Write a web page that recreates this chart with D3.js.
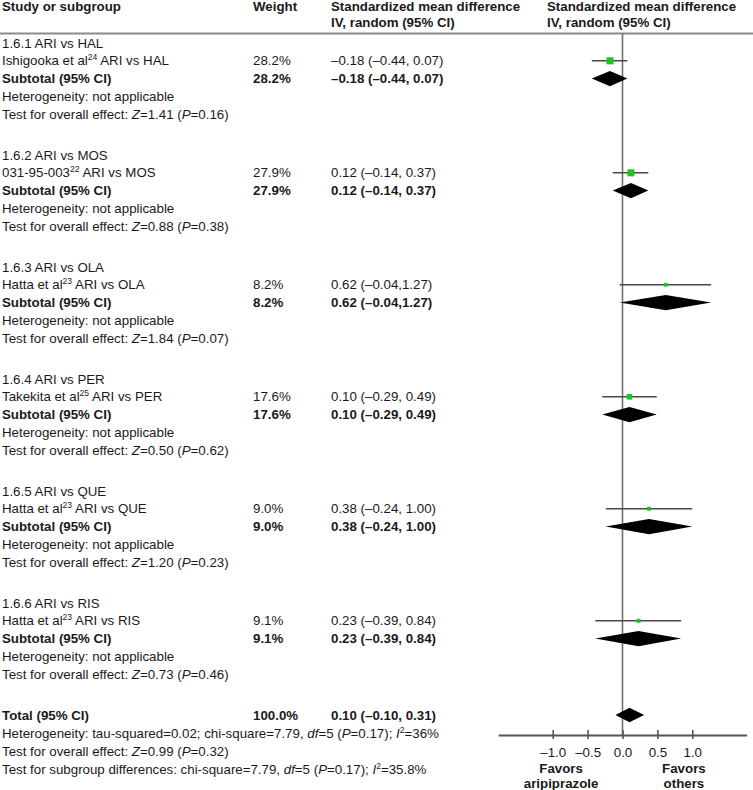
<!DOCTYPE html>
<html>
<head>
<meta charset="utf-8">
<script src="https://cdn.jsdelivr.net/npm/d3@7"></script>
<style>
  html, body { margin: 0; padding: 0; background: #fff; }
  svg text { font-family: "Liberation Sans", Arial, Helvetica, sans-serif; font-size: 13.3px; fill: #1a1a1a; }
</style>
</head>
<body>
<svg id="chart" width="753" height="790"></svg>
<script>
// ---------- data ----------
const groupLabels = ["1.6.1 ARI vs HAL", "1.6.2 ARI vs MOS", "1.6.3 ARI vs OLA", "1.6.4 ARI vs PER", "1.6.5 ARI vs QUE", "1.6.6 ARI vs RIS"];
const studyNames = ["Ishigooka et al", "031-95-003", "Hatta et al", "Takekita et al", "Hatta et al", "Hatta et al"];
const studyRefs = ["24", "22", "23", "25", "23", "23"];
const comparisons = ["ARI vs HAL", "ARI vs MOS", "ARI vs OLA", "ARI vs PER", "ARI vs QUE", "ARI vs RIS"];
const weights = [28.2, 27.9, 8.2, 17.6, 9.0, 9.1];
const smd = [-0.18, 0.12, 0.62, 0.10, 0.38, 0.23];
const ciLower = [-0.44, -0.14, -0.04, -0.29, -0.24, -0.39];
const ciUpper = [0.07, 0.37, 1.27, 0.49, 1.00, 0.84];
const ciLabels = ["–0.18 (–0.44, 0.07)", "0.12 (–0.14, 0.37)", "0.62 (–0.04,1.27)", "0.10 (–0.29, 0.49)", "0.38 (–0.24, 1.00)", "0.23 (–0.39, 0.84)"];
const zValues = ["1.41", "0.88", "1.84", "0.50", "1.20", "0.73"];
const pValues = ["0.16", "0.38", "0.07", "0.62", "0.23", "0.46"];
const totalWeight = 100.0;
const totalSmd = 0.10, totalLower = -0.10, totalUpper = 0.31;
const totalCiLabel = "0.10 (–0.10, 0.31)";
const tickValues = [-1.0, -0.5, 0.0, 0.5, 1.0];
const tickLabels = ["–1.0", "–0.5", "0.0", "0.5", "1.0"];

// ---------- layout ----------
const svg = d3.select("#chart");
const INK = "#1a1a1a";
const colStudy = 2, colWeight = 253, colCI = 331, colPlot = 547;
const x = d3.scaleLinear().domain([-1.78, 1.78]).range([498.3, 746.7]);
const axisY = 735;
const headerLineY = 33.5;
const rowY = (g, line) => 43 + g * 112 + line * 17.8;
const totalY = (line) => 715 + line * 18;
const boxSide = d3.scaleSqrt().domain([0, 100]).range([0, 13.2]);

// rich text helper: segments are strings or {t, i, sup}
function rich(x0, y0, segs, bold) {
  const t = svg.append("text").attr("x", x0).attr("y", y0).attr("dy", "0.35em")
    .style("font-weight", bold ? "bold" : "normal");
  let raised = false;
  segs.forEach(s => {
    const seg = typeof s === "string" ? { t: s } : s;
    const sp = t.append("tspan").text(seg.t);
    if (seg.i) sp.style("font-style", "italic");
    if (seg.sup) {
      sp.style("font-size", "8.5px");
      if (!raised) { sp.attr("dy", -5); raised = true; }
    } else if (raised) { sp.attr("dy", 5); raised = false; }
  });
  return t;
}

// ---------- header ----------
const hdr = [
  [colStudy, ["Study or subgroup"]],
  [colWeight, ["Weight"]],
  [colCI, ["Standardized mean difference", "IV, random (95% CI)"]],
  [colPlot, ["Standardized mean difference", "IV, random (95% CI)"]]
];
hdr.forEach(([cx, lines]) => {
  lines.forEach((l, i) => {
    svg.append("text").attr("x", cx).attr("y", 11 + i * 15.5)
      .style("font-weight", "bold").text(l);
  });
});
svg.append("line").attr("x1", 0).attr("x2", 753)
  .attr("y1", headerLineY).attr("y2", headerLineY)
  .attr("stroke", "#8a8a8a").attr("stroke-width", 2);

// zero line
svg.append("line").attr("x1", x(0)).attr("x2", x(0))
  .attr("y1", headerLineY).attr("y2", axisY)
  .attr("stroke", "#707070").attr("stroke-width", 1.6);

// ---------- groups ----------
groupLabels.forEach((g, i) => {
  rich(colStudy, rowY(i, 0), [g]);
  rich(colStudy, rowY(i, 1), [studyNames[i], { t: studyRefs[i], sup: true }, " " + comparisons[i]]);
  rich(colWeight, rowY(i, 1), [weights[i].toFixed(1) + "%"]);
  rich(colCI, rowY(i, 1), [ciLabels[i]]);
  rich(colStudy, rowY(i, 2), ["Subtotal (95% CI)"], true);
  rich(colWeight, rowY(i, 2), [weights[i].toFixed(1) + "%"], true);
  rich(colCI, rowY(i, 2), [ciLabels[i]], true);
  rich(colStudy, rowY(i, 3), ["Heterogeneity: not applicable"]);
  rich(colStudy, rowY(i, 4), ["Test for overall effect: ", { t: "Z", i: true }, "=" + zValues[i] + " (", { t: "P", i: true }, "=" + pValues[i] + ")"]);

  // CI line + square
  const yS = rowY(i, 1);
  svg.append("line").attr("x1", x(ciLower[i])).attr("x2", x(ciUpper[i]))
    .attr("y1", yS).attr("y2", yS).attr("stroke", "#4a4a4a").attr("stroke-width", 1.5);
  const s = boxSide(weights[i]);
  svg.append("rect").attr("x", x(smd[i]) - s / 2).attr("y", yS - s / 2)
    .attr("width", s).attr("height", s).attr("fill", "#1fc21f");

  // subtotal diamond
  const yD = rowY(i, 2);
  const h = 7.6;
  svg.append("path").attr("d", d3.line()([[x(ciLower[i]), yD], [x(smd[i]), yD - h], [x(ciUpper[i]), yD], [x(smd[i]), yD + h]]) + "Z")
    .attr("fill", "#000");
});

// ---------- total ----------
rich(colStudy, totalY(0), ["Total (95% CI)"], true);
rich(colWeight, totalY(0), [totalWeight.toFixed(1) + "%"], true);
rich(colCI, totalY(0), [totalCiLabel], true);
rich(colStudy, totalY(1), ["Heterogeneity: tau-squared=0.02; chi-square=7.79, ", { t: "df", i: true }, "=5 (", { t: "P", i: true }, "=0.17); ", { t: "I", i: true }, { t: "2", sup: true }, "=36%"]);
rich(colStudy, totalY(2), ["Test for overall effect: ", { t: "Z", i: true }, "=0.99 (", { t: "P", i: true }, "=0.32)"]);
rich(colStudy, totalY(3), ["Test for subgroup differences: chi-square=7.79, ", { t: "df", i: true }, "=5 (", { t: "P", i: true }, "=0.17); ", { t: "I", i: true }, { t: "2", sup: true }, "=35.8%"]);

{
  const yD = totalY(0), h = 7.2;
  svg.append("path").attr("d", d3.line()([[x(totalLower), yD], [x(totalSmd), yD - h], [x(totalUpper), yD], [x(totalSmd), yD + h]]) + "Z")
    .attr("fill", "#000");
}

// ---------- axis ----------
const axis = d3.axisBottom(x).tickValues(tickValues)
  .tickFormat((d, i) => tickLabels[i]).tickSizeOuter(0).tickSizeInner(4).tickPadding(9);
const ag = svg.append("g").attr("transform", `translate(0,${axisY})`).call(axis);
ag.select(".domain").attr("stroke", "#555").attr("stroke-width", 2);
ag.selectAll(".tick line").attr("y1", -5).attr("y2", 4).attr("stroke", "#555").attr("stroke-width", 1.6);
ag.selectAll(".tick text").attr("fill", INK)
  .style("font-family", '"Liberation Sans", Arial, sans-serif').style("font-size", "13.3px");

// favors labels
[["Favors", "aripiprazole", -0.88], ["Favors", "others", 0.88]].forEach(([a, b, v]) => {
  svg.append("text").attr("x", x(v)).attr("y", 768).attr("dy", "0.35em")
    .attr("text-anchor", "middle").style("font-weight", "bold").text(a);
  svg.append("text").attr("x", x(v)).attr("y", 783).attr("dy", "0.35em")
    .attr("text-anchor", "middle").style("font-weight", "bold").text(b);
});
</script>
</body>
</html>
